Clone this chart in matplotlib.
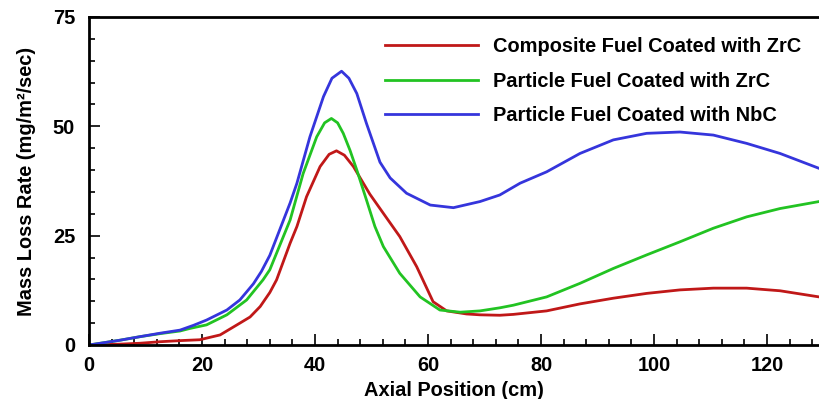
import matplotlib
matplotlib.use('Agg')
import matplotlib.pyplot as plt
from matplotlib.ticker import MultipleLocator

plt.rcParams['font.family'] = ['Liberation Sans', 'DejaVu Sans']
plt.rcParams['font.weight'] = 'bold'

# Composite fuel coated with ZrC
red_x = [0, 5.5, 9.0, 12.6, 16.1, 19.6, 23.2, 26.7, 28.5, 30.3, 32, 33.2, 35.6, 36.8, 38.5,
         40.9, 42.5, 43.8, 45.2, 46.8, 49.7, 52.7, 55, 58, 60.9, 63.3, 66.8, 69.2, 72.7,
         75.1, 81, 86.9, 92.8, 98.7, 104.6, 110.5, 116.4, 122.3, 129.2]
red_y = [0, 0.2, 0.4, 0.75, 1.0, 1.2, 2.3, 5.0, 6.4, 8.8, 12.0, 14.9, 23.3, 27.1, 33.9,
         40.8, 43.6, 44.4, 43.4, 40.8, 34.5, 29.0, 24.8, 17.9, 9.9, 7.8, 7.1, 6.9, 6.8,
         7.0, 7.8, 9.4, 10.7, 11.8, 12.6, 13.0, 13.0, 12.4, 11.0]

# Particle fuel coated with ZrC
green_x = [0, 5.5, 9.0, 12.6, 16.1, 17.9, 20.8, 24.4, 27.9, 30.8, 32, 35.6, 37.9, 40.3,
           41.7, 42.9, 44, 45, 46.2, 47.4, 49.1, 50.6, 52.1, 55, 58.6, 62.1, 65.7, 69.2,
           72.7, 75.1, 81, 86.9, 92.8, 98.7, 104.6, 110.5, 116.4, 122.3, 129.2]
green_y = [0, 1.1, 1.9, 2.6, 3.2, 3.8, 4.6, 6.9, 10.3, 14.9, 17.2, 28.6, 39.2, 47.6,
           50.8, 51.8, 50.8, 48.4, 44.5, 40.0, 33.2, 27.1, 22.5, 16.4, 11.0, 8.0, 7.5, 7.8,
           8.5, 9.1, 11.0, 14.1, 17.5, 20.6, 23.6, 26.7, 29.3, 31.2, 32.8]

# Particle fuel coated with NbC
blue_x = [0, 5.5, 9.0, 12.6, 16.1, 18.5, 20.8, 24.4, 26.7, 29.1, 30.5, 32, 35.6, 36.8, 39.1,
          41.5, 43, 44.7, 46, 47.4, 49.1, 51.5, 53.3, 56.2, 60.4, 64.5, 69.2, 72.7, 76.3,
          81, 86.9, 92.8, 98.7, 104.6, 110.5, 116.4, 122.3, 129.2]
blue_y = [0, 1.1, 1.9, 2.7, 3.4, 4.5, 5.7, 8.0, 10.3, 14.0, 16.8, 20.5, 32.5, 37.0, 47.6,
          56.8, 61, 62.6, 61, 57.5, 50.7, 41.8, 38.2, 34.7, 32.0, 31.4, 32.8, 34.3, 37.0,
          39.6, 43.8, 46.9, 48.4, 48.7, 48.0, 46.1, 43.8, 40.4]

labels = ['Composite Fuel Coated with ZrC',
          'Particle Fuel Coated with ZrC',
          'Particle Fuel Coated with NbC']
colors = ['#c01818', '#22c322', '#3535dc']

fig = plt.figure(figsize=(8.19, 3.99), dpi=100)
ax = fig.add_axes([89 / 819, 54 / 399, 1 - 89 / 819, 328 / 399])

ax.plot(red_x, red_y, color=colors[0], lw=2, label=labels[0])
ax.plot(green_x, green_y, color=colors[1], lw=2, label=labels[1])
ax.plot(blue_x, blue_y, color=colors[2], lw=2, label=labels[2])

ax.set_xlim(0, 129.2)
ax.set_ylim(0, 75)
ax.xaxis.set_major_locator(MultipleLocator(20))
ax.xaxis.set_minor_locator(MultipleLocator(4))
ax.yaxis.set_major_locator(MultipleLocator(25))
ax.yaxis.set_minor_locator(MultipleLocator(5))
ax.tick_params(which='both', direction='in', top=False, right=False, width=1.2,
               labelsize=14.4)
ax.tick_params(which='major', length=8)
ax.tick_params(which='minor', length=4)
ax.tick_params(axis='x', pad=8)
ax.tick_params(axis='y', pad=10)
for s in ['left', 'bottom', 'top']:
    ax.spines[s].set_linewidth(2)
ax.spines['right'].set_visible(False)

ax.set_xlabel('Axial Position (cm)', fontsize=14.4, fontweight='bold', labelpad=4)
ax.set_ylabel('Mass Loss Rate (mg/m²/sec)', fontsize=14.4, fontweight='bold', labelpad=12)

leg = ax.legend(loc='upper left', bbox_to_anchor=(385 / 819, 1 - 37 / 399),
                bbox_transform=fig.transFigure, frameon=False, fontsize=14.4,
                handlelength=4.65, handletextpad=0.75, labelspacing=0.78,
                borderpad=0, borderaxespad=0)
for t in leg.get_texts():
    t.set_fontweight('bold')

fig.savefig('out.png', dpi=100)
